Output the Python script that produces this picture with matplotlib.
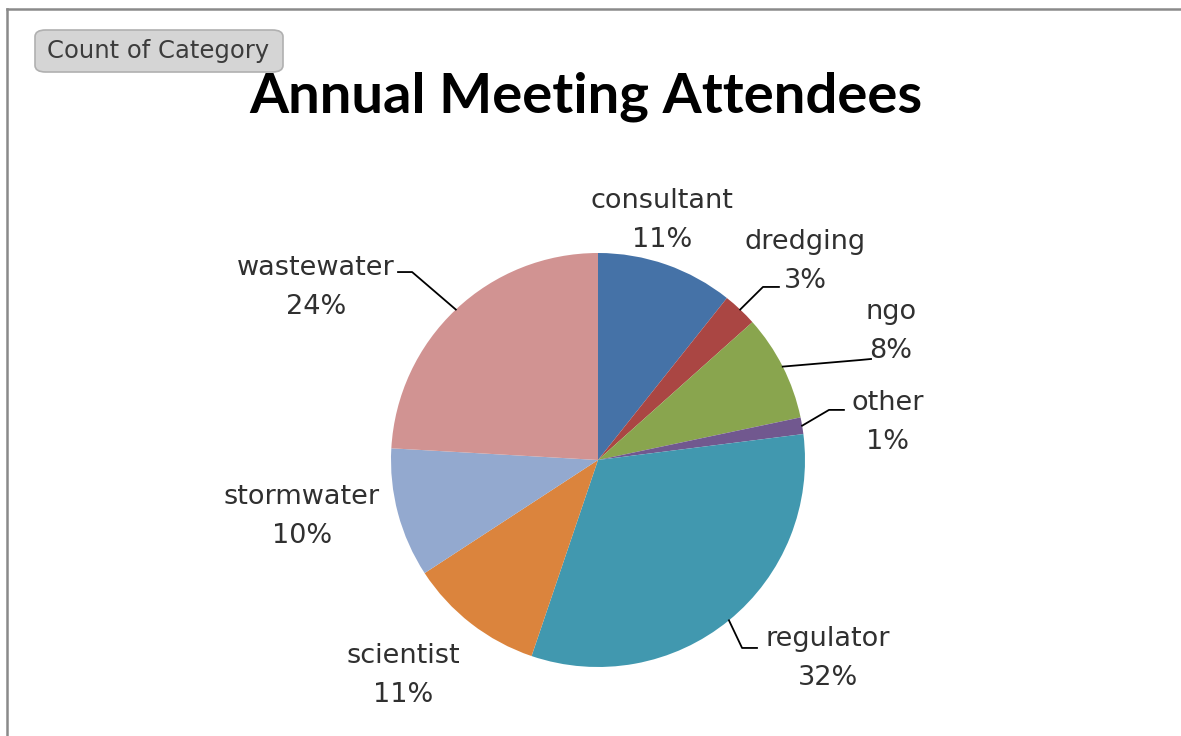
import matplotlib
matplotlib.use("Agg")
import matplotlib.pyplot as plt
import numpy as np
from matplotlib.patches import FancyBboxPatch
from matplotlib.lines import Line2D

categories = ["consultant", "dredging", "ngo", "other", "regulator",
              "scientist", "stormwater", "wastewater"]
shares = [10.7, 2.7, 8.3, 1.3, 32.2, 10.6, 10.1, 24.1]
colors = ["#4572A7", "#AA4643", "#89A54E", "#71588F", "#4198AF",
          "#DB843D", "#93A9CF", "#D19392"]
title = "Annual Meeting Attendees"
button_text = "Count of Category"

# label layout (axes data units, pie radius = 1)
label_pos = {
    "consultant": (0.309, 1.155),
    "dredging": (1.00, 0.961),
    "ngo": (1.415, 0.623),
    "other": (1.40, 0.179),
    "regulator": (1.111, -0.961),
    "scientist": (-0.942, -1.043),
    "stormwater": (-1.43, -0.275),
    "wastewater": (-1.362, 0.831),
}
# leader elbows: (elbow, end)
leaders = {
    "dredging": ((0.797, 0.836), (0.874, 0.836)),
    "ngo": ((1.266, 0.483), (1.319, 0.488)),
    "other": ((1.116, 0.242), (1.188, 0.242)),
    "regulator": ((0.696, -0.908), (0.768, -0.908)),
    "wastewater": ((-0.898, 0.908), (-0.966, 0.908)),
}

W, H = 1181, 736
fig = plt.figure(figsize=(W / 100, H / 100), dpi=100)
fig.patch.set_facecolor("white")

cx, cy, R = 598, 460, 207
ax = fig.add_axes([(cx - R) / W, (H - cy - R) / H, 2 * R / W, 2 * R / H])
wedges, _ = ax.pie(shares, colors=colors, startangle=90, counterclock=False,
                   radius=1.0, wedgeprops=dict(linewidth=0))
ax.set_xlim(-1, 1)
ax.set_ylim(-1, 1)
ax.set_aspect("equal")
ax.axis("off")

lab_font = dict(family=["DejaVu Sans"], fontsize=19.5, color="#303030")
for w, cat, val in zip(wedges, categories, shares):
    x, y = label_pos[cat]
    ax.text(x, y, f"{cat}\n{round(val):.0f}%", ha="center", va="center",
            linespacing=1.65, clip_on=False, **lab_font)
    if cat in leaders:
        mid = np.deg2rad((w.theta1 + w.theta2) / 2)
        sx, sy = np.cos(mid), np.sin(mid)
        (ex, ey), (tx, ty) = leaders[cat]
        ax.add_line(Line2D([sx, ex, tx], [sy, ey, ty], color="black",
                           linewidth=1.3, clip_on=False))

fig.text(586 / W, 1 - 113 / H, title, ha="center", va="baseline",
         fontsize=40.5, fontweight="bold", family=["Lato", "DejaVu Sans"],
         color="black")

# pivot field button
btn = FancyBboxPatch((35 / W, 1 - 72 / H), 248 / W, 42 / H,
                     boxstyle="round,pad=0,rounding_size=0.009",
                     transform=fig.transFigure, facecolor="#d5d5d5",
                     edgecolor="#b0b0b0", linewidth=1.2)
fig.patches.append(btn)
fig.text(158 / W, 1 - 51 / H, button_text, ha="center", va="center",
         fontsize=17.5, family=["DejaVu Sans"], color="#3c3c3c")

# frame lines (top and left)
fig.add_artist(Line2D([7 / W, 1], [1 - 9 / H, 1 - 9 / H], color="#8a8a8a",
                      linewidth=1.8, transform=fig.transFigure))
fig.add_artist(Line2D([7 / W, 7 / W], [0, 1 - 9 / H], color="#8a8a8a",
                      linewidth=1.8, transform=fig.transFigure))

fig.savefig("out.png", dpi=100, facecolor="white")
